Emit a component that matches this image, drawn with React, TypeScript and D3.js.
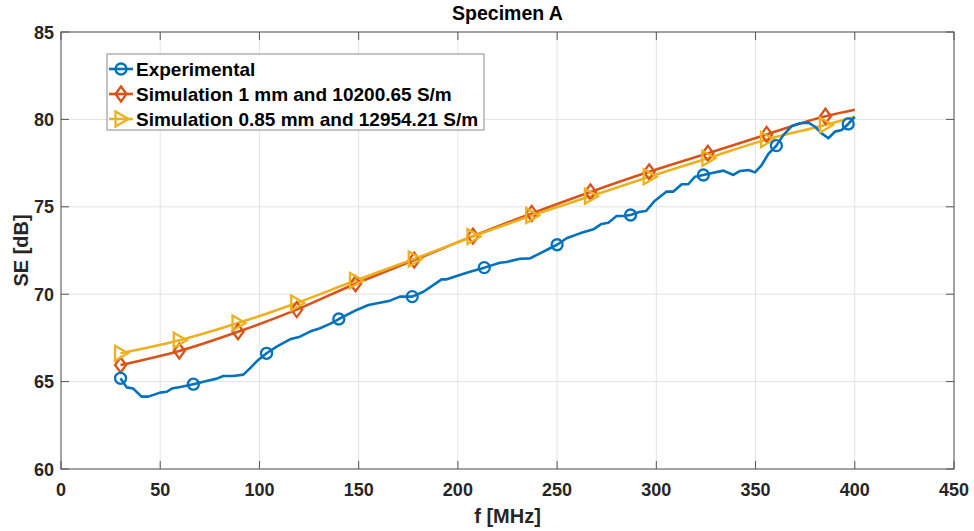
import React from "react";
import * as d3 from "d3";

const expFreq = [30, 33.1, 36.4, 40.6, 44, 49.9, 53.3, 55.8, 60.8, 66.7, 73.4, 78.5, 81.8, 86.8, 91.9, 95.2, 99.4, 103.6, 108.7, 115.4, 120.4, 125.5, 130.5, 135.5, 140, 149, 154.9, 160.7, 165.8, 170.8, 177, 182.6, 187.6, 191.8, 194.4, 199.4, 206.1, 213.3, 221.2, 224.6, 231.3, 236.3, 241.4, 246.4, 250, 254.8, 261.5, 268.3, 272.4, 275.8, 280, 283.4, 287, 291.8, 294.8, 299.3, 305.2, 308.6, 312.8, 316.1, 319.5, 323.7, 328.7, 333.8, 338.8, 342.2, 346.4, 349.7, 353.1, 356.4, 360.5, 364, 368.2, 372.4, 376.6, 380, 383.3, 386.7, 390, 393.4, 396.7, 400];
const expSE = [65.19, 64.67, 64.6, 64.14, 64.14, 64.37, 64.42, 64.6, 64.7, 64.85, 65.03, 65.17, 65.32, 65.32, 65.4, 65.76, 66.24, 66.62, 67.0, 67.42, 67.57, 67.86, 68.05, 68.3, 68.58, 69.1, 69.38, 69.51, 69.63, 69.86, 69.86, 70.14, 70.52, 70.85, 70.85, 71.04, 71.29, 71.52, 71.8, 71.84, 72.03, 72.05, 72.34, 72.63, 72.83, 73.2, 73.48, 73.71, 74.02, 74.09, 74.47, 74.47, 74.53, 74.72, 74.76, 75.35, 75.87, 75.87, 76.29, 76.29, 76.72, 76.82, 76.95, 77.07, 76.82, 77.05, 77.1, 76.97, 77.39, 78.02, 78.5, 79.1, 79.62, 79.78, 79.81, 79.58, 79.2, 78.92, 79.3, 79.39, 79.74, 80.15];
const expMarkerFreq = [30, 66.7, 103.6, 140, 177, 213.3, 250, 287, 323.7, 360.5, 396.7];

const simFreq = [30, 59.6, 89.2, 118.8, 148.4, 178, 207.6, 237.2, 266.8, 296.4, 326, 355.6, 385.2, 400];
const sim1SE = [65.95, 66.75, 67.85, 69.12, 70.6, 71.95, 73.32, 74.62, 75.85, 77.0, 78.06, 79.14, 80.18, 80.55];
const sim2SE = [66.62, 67.36, 68.35, 69.5, 70.78, 72.02, 73.3, 74.5, 75.6, 76.72, 77.78, 78.85, 79.68, 80.15];
const simMarkerCount = 13;

const xTicks = [0, 50, 100, 150, 200, 250, 300, 350, 400, 450];
const yTicks = [60, 65, 70, 75, 80, 85];

const legendLabels = [
  "Experimental",
  "Simulation 1 mm and 10200.65 S/m",
  "Simulation 0.85 mm and 12954.21 S/m",
];
const colors = ["#0072BD", "#D95319", "#EDB120"];

const W = 974, H = 531;
const L = 61, R = 954, T = 32, B = 469;
const FONT = "'Liberation Sans', Arial, Helvetica, sans-serif";

function Marker({ kind, x, y, color }: { kind: number; x: number; y: number; color: string }) {
  if (kind === 0) return <circle cx={x} cy={y} r={5.5} fill="none" stroke={color} strokeWidth={2.3} />;
  if (kind === 1)
    return <path d={`M${x},${y - 7.5}L${x + 5.5},${y}L${x},${y + 7.5}L${x - 5.5},${y}Z`} fill="none" stroke={color} strokeWidth={2.3} />;
  return <path d={`M${x - 5.5},${y - 7.5}L${x + 7.5},${y}L${x - 5.5},${y + 7.5}Z`} fill="none" stroke={color} strokeWidth={2.3} />;
}

export default function App() {
  const x = d3.scaleLinear().domain([0, 450]).range([L, R]);
  const y = d3.scaleLinear().domain([60, 85]).range([B, T]);
  const lin = d3.line<[number, number]>().x((d) => x(d[0])).y((d) => y(d[1]));
  const smooth = d3.line<[number, number]>().x((d) => x(d[0])).y((d) => y(d[1])).curve(d3.curveMonotoneX);

  const expPts: [number, number][] = expFreq.map((f, i) => [f, expSE[i]]);
  const s1: [number, number][] = simFreq.map((f, i) => [f, sim1SE[i]]);
  const s2: [number, number][] = simFreq.map((f, i) => [f, sim2SE[i]]);
  const expMarks = expPts.filter((p) => expMarkerFreq.includes(p[0]));

  const axisColor = "#555";
  const tickColor = "#262626";

  return (
    <svg width={W} height={H} style={{ position: "absolute", left: 0, top: 0 }} fontFamily={FONT}>
      <rect width={W} height={H} fill="#fff" />
      {xTicks.map((t) => (
        <line key={"gx" + t} x1={x(t)} x2={x(t)} y1={T} y2={B} stroke="#e3e3e3" strokeWidth={1} />
      ))}
      {yTicks.map((t) => (
        <line key={"gy" + t} x1={L} x2={R} y1={y(t)} y2={y(t)} stroke="#e3e3e3" strokeWidth={1} />
      ))}
      {xTicks.map((t) => (
        <g key={"tx" + t}>
          <line x1={x(t)} x2={x(t)} y1={B} y2={B - 8} stroke={axisColor} />
          <line x1={x(t)} x2={x(t)} y1={T} y2={T + 8} stroke={axisColor} />
          <text x={x(t)} y={496} textAnchor="middle" fontSize={18} fontWeight="bold" fill={tickColor}>{t}</text>
        </g>
      ))}
      {yTicks.map((t) => (
        <g key={"ty" + t}>
          <line x1={L} x2={L + 8} y1={y(t)} y2={y(t)} stroke={axisColor} />
          <line x1={R} x2={R - 8} y1={y(t)} y2={y(t)} stroke={axisColor} />
          <text x={54} y={y(t) + 6.5} textAnchor="end" fontSize={18} fontWeight="bold" fill={tickColor}>{t}</text>
        </g>
      ))}
      <path d={smooth(s1) || ""} fill="none" stroke={colors[1]} strokeWidth={2.6} />
      <path d={smooth(s2) || ""} fill="none" stroke={colors[2]} strokeWidth={2.6} />
      <path d={lin(expPts) || ""} fill="none" stroke={colors[0]} strokeWidth={2.6} strokeLinejoin="round" />
      {s1.slice(0, simMarkerCount).map((p, i) => (
        <Marker key={"m1" + i} kind={1} x={x(p[0])} y={y(p[1])} color={colors[1]} />
      ))}
      {s2.slice(0, simMarkerCount).map((p, i) => (
        <Marker key={"m2" + i} kind={2} x={x(p[0])} y={y(p[1])} color={colors[2]} />
      ))}
      {expMarks.map((p, i) => (
        <Marker key={"m0" + i} kind={0} x={x(p[0])} y={y(p[1])} color={colors[0]} />
      ))}
      <rect x={L} y={T} width={R - L} height={B - T} fill="none" stroke={axisColor} strokeWidth={1} />
      <rect x={107} y={54} width={377} height={76} fill="#fff" stroke="#8a8a8a" strokeWidth={1} />
      {legendLabels.map((lab, i) => {
        const cy = 69 + i * 25;
        return (
          <g key={"lg" + i}>
            <line x1={109} x2={133} y1={cy} y2={cy} stroke={colors[i]} strokeWidth={2.6} />
            <Marker kind={i} x={121} y={cy} color={colors[i]} />
            <text x={136} y={cy + 6.5} fontSize={19} fontWeight="bold" fill="#000">{lab}</text>
          </g>
        );
      })}
      <text x={(L + R) / 2} y={20} textAnchor="middle" fontSize={19.5} fontWeight="bold" fill="#000">Specimen A</text>
      <text x={(L + R) / 2} y={523} textAnchor="middle" fontSize={20} fontWeight="bold" fill={tickColor}>f [MHz]</text>
      <text transform={`translate(28,${(T + B) / 2}) rotate(-90)`} textAnchor="middle" fontSize={20} fontWeight="bold" fill={tickColor}>SE [dB]</text>
    </svg>
  );
}
